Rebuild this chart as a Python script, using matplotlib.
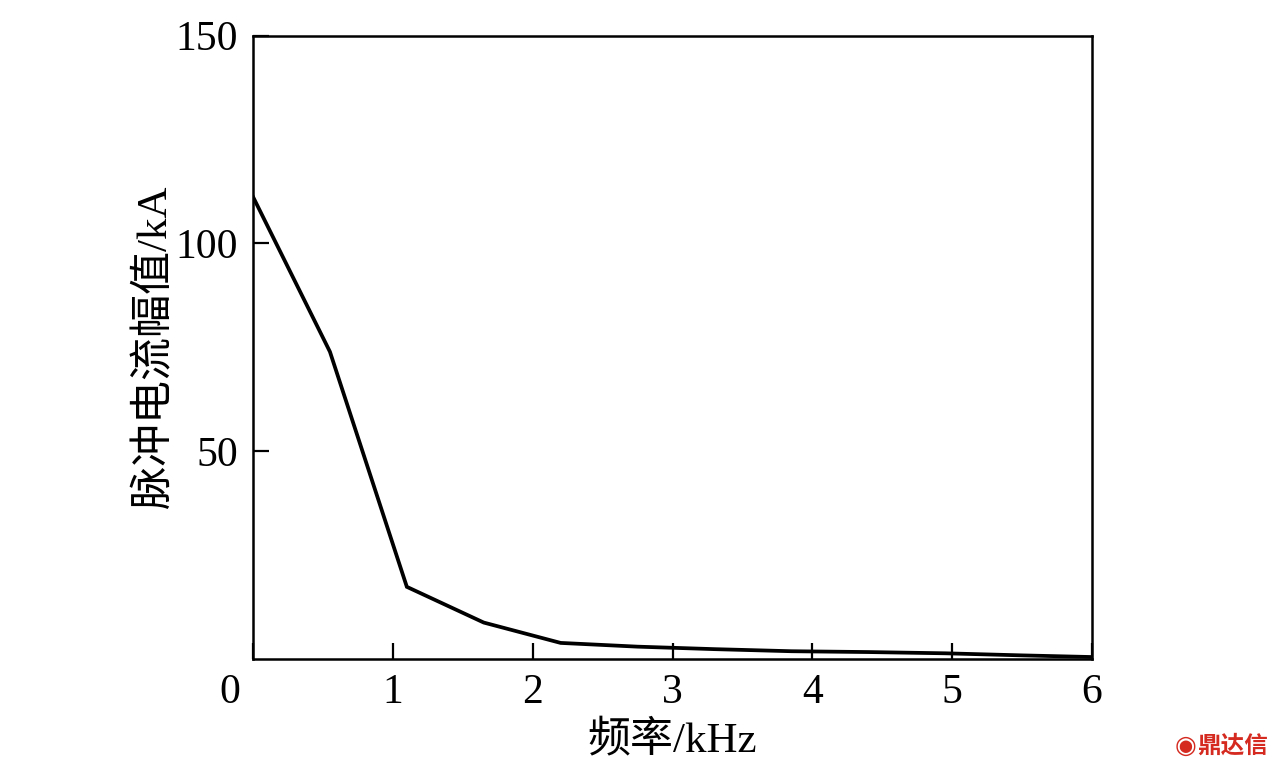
import matplotlib
matplotlib.use("Agg")
import matplotlib.pyplot as plt
import matplotlib.transforms as mtransforms

# pulse current amplitude vs frequency
freq_khz = [0.0, 0.55, 1.1, 1.65, 2.2, 2.75, 3.3, 3.85, 4.4, 4.95, 5.5, 6.0]
amp_ka = [111.2, 73.9, 17.3, 8.7, 3.8, 2.9, 2.3, 1.8, 1.6, 1.3, 0.8, 0.4]

xticks = [0, 1, 2, 3, 4, 5, 6]
yticks = [50, 100, 150]
ytick_labels = ["50", "100", "150"]

fonts = ["Liberation Serif", "Noto Sans CJK SC"]
plt.rcParams["font.family"] = fonts

fig = plt.figure(figsize=(12.76, 7.67), dpi=100)
ax = fig.add_axes([0.1983, 0.1412, 0.6575, 0.8123])

ax.plot(freq_khz, amp_ka, color="black", linewidth=2.7, solid_joinstyle="miter")

ax.set_xlim(0, 6)
ax.set_ylim(0, 150)
ax.set_xticks(xticks)
ax.set_yticks(yticks)
ax.set_yticklabels(ytick_labels)
ax.tick_params(direction="in", length=11.5, width=1.6, labelsize=30, pad=11,
               top=False, right=False)
for s in ax.spines.values():
    s.set_linewidth(1.8)

# shared origin label sits left of the corner
off = mtransforms.ScaledTranslation(-0.23, 0, fig.dpi_scale_trans)
lbl0 = ax.get_xticklabels()[0]
lbl0.set_transform(lbl0.get_transform() + off)

ax.set_xlabel("频率/kHz", fontsize=31, labelpad=6, family=fonts)
ax.set_ylabel("脉冲电流幅值/kA", fontsize=31, labelpad=0, family=fonts)

fig.text(0.929, 0.028, "\u25c9", color="#d42a20", fontsize=18,
         family=["DejaVu Sans"], ha="center", va="center")
fig.text(0.966, 0.028, "鼎达信", color="#d42a20", fontsize=17, fontweight="bold",
         family=["Noto Sans CJK SC"], ha="center", va="center")

fig.savefig("out.png", dpi=100, facecolor="white")
